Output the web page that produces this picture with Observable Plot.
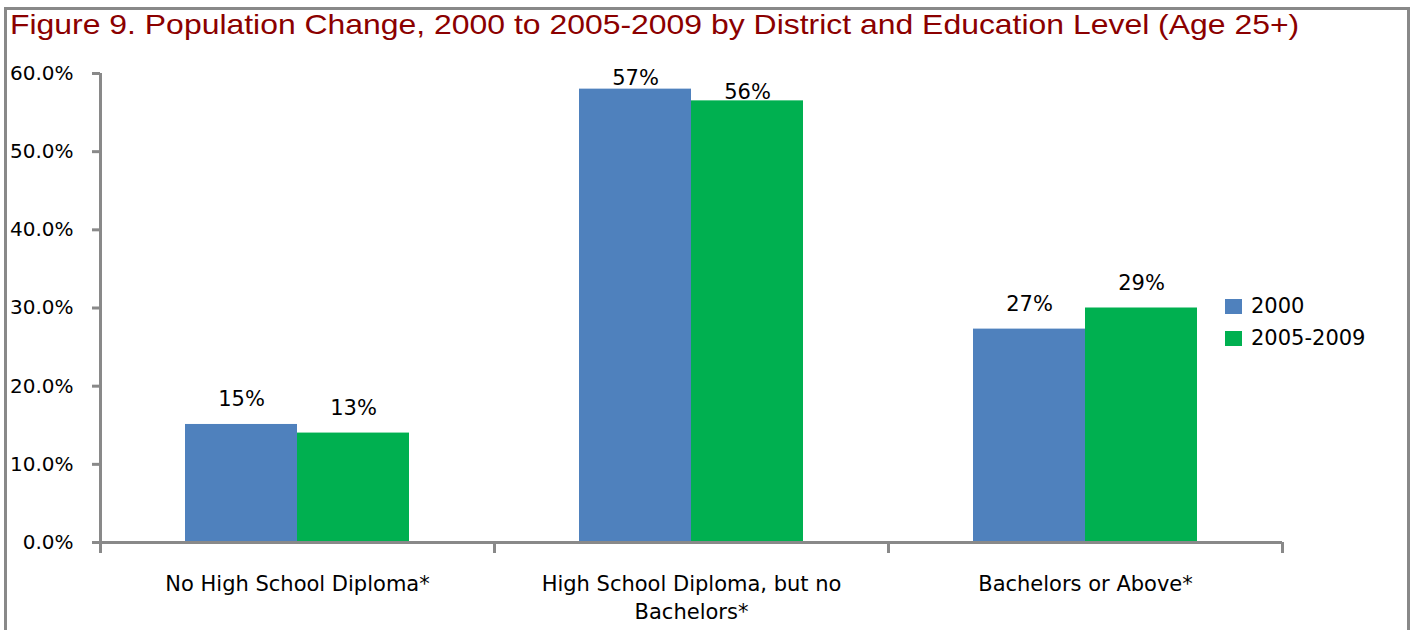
<!DOCTYPE html>
<html>
<head>
<meta charset="utf-8">
<script src="https://cdn.jsdelivr.net/npm/d3@7"></script>
<script src="https://cdn.jsdelivr.net/npm/@observablehq/plot@0.6"></script>
<style>
  body { margin: 0; background: #fff; width: 1413px; height: 630px; overflow: hidden; position: relative; font-family: "DejaVu Sans", sans-serif; }
  #frame { position: absolute; left: 4px; top: 7px; width: 1400px; height: 700px; border: 3px solid #898989; }
  #title { position: absolute; left: 10px; top: 11px; font: 28px/28px "Liberation Sans", Arial, sans-serif; color: #8B0000; white-space: nowrap; transform: scaleX(1.14); transform-origin: 0 0; }
  #chart { position: absolute; left: 0; top: 50px; }
  #legend { position: absolute; left: 1225px; top: 290px; font: 21px "DejaVu Sans", sans-serif; color: #000; }
  #legend .item { display: flex; align-items: center; height: 32px; white-space: nowrap; }
  #legend .sw { display: inline-block; width: 17px; height: 15px; margin-right: 9px; }
</style>
</head>
<body>
<div id="frame"></div>
<div id="title">Figure 9. Population Change, 2000 to 2005-2009 by District and Education Level (Age 25+)</div>
<div id="chart"></div>
<div id="legend"></div>
<script>
const categories = ["No High School Diploma*", "High School Diploma, but no Bachelors*", "Bachelors or Above*"];
const tickLabels = ["No High School Diploma*", "High School Diploma, but no\nBachelors*", "Bachelors or Above*"];
const series = ["2000", "2005-2009"];
const values2000 = [15.1, 58.0, 27.3];
const values0509 = [14.0, 56.5, 30.0];
const labels2000 = ["15%", "57%", "27%"];
const labels0509 = ["13%", "56%", "29%"];
const yTicks = [0, 10, 20, 30, 40, 50, 60];
const colors = ["#4F81BD", "#00B050"];
const axisGray = "#898989";

const data = categories.flatMap((c, i) => [
  {cat: c, series: series[0], value: values2000[i], label: labels2000[i]},
  {cat: c, series: series[1], value: values0509[i], label: labels0509[i]}
]);
const d2000 = data.filter(d => d.series === series[0]);
const d0509 = data.filter(d => d.series === series[1]);
const notMid = d => d.cat !== categories[1];
const isMid = d => d.cat === categories[1];

const chart = Plot.plot({
  width: 1413,
  height: 580,
  marginLeft: 100,
  marginRight: 131,
  marginTop: 23,
  marginBottom: 88,
  style: {fontFamily: "DejaVu Sans, sans-serif", background: "transparent", overflow: "visible", color: "#000"},
  x: {domain: categories, padding: 0, axis: null},
  y: {domain: [0, 60], axis: null},
  marks: [
    Plot.barY(d2000, {x: "cat", y: "value", fill: colors[0], insetLeft: 85, insetRight: 197}),
    Plot.barY(d0509, {x: "cat", y: "value", fill: colors[1], insetLeft: 197, insetRight: 85}),
    Plot.ruleY([0], {stroke: axisGray, strokeWidth: 3}),
    Plot.ruleX([categories[0]], {dx: -197, stroke: axisGray, strokeWidth: 3}),
    Plot.axisY({ticks: yTicks, label: null, tickFormat: d => d.toFixed(1) + "%", tickSize: 8, tickPadding: 19, fontSize: 20, stroke: axisGray, strokeWidth: 3, fill: "#000"}),
    Plot.axisX({label: null, tickSize: 11, tickFormat: () => "", dx: -197, stroke: axisGray, strokeWidth: 3}),
    Plot.axisX({label: null, ticks: [categories[2]], tickSize: 11, tickFormat: () => "", dx: 197, stroke: axisGray, strokeWidth: 3}),
    Plot.axisX({label: null, tickSize: 0, tickPadding: 29, fontSize: 21, lineHeight: 1.333, fill: "#000",
      tickFormat: d => tickLabels[categories.indexOf(d)]}),
    Plot.text(d2000, {filter: notMid, x: "cat", y: "value", text: "label", dx: -56, dy: -25, fontSize: 21, fill: "#000"}),
    Plot.text(d2000, {filter: isMid, x: "cat", y: "value", text: "label", dx: -56, dy: -11, fontSize: 21, fill: "#000"}),
    Plot.text(d0509, {filter: notMid, x: "cat", y: "value", text: "label", dx: 56, dy: -25, fontSize: 21, fill: "#000"}),
    Plot.text(d0509, {filter: isMid, x: "cat", y: "value", text: "label", dx: 56, dy: -9, fontSize: 21, fill: "#000"})
  ]
});
document.getElementById("chart").appendChild(chart);

const legend = document.getElementById("legend");
series.forEach((s, i) => {
  const item = document.createElement("div");
  item.className = "item";
  const sw = document.createElement("span");
  sw.className = "sw";
  sw.style.background = colors[i];
  item.appendChild(sw);
  item.appendChild(document.createTextNode(s));
  legend.appendChild(item);
});
</script>
</body>
</html>
